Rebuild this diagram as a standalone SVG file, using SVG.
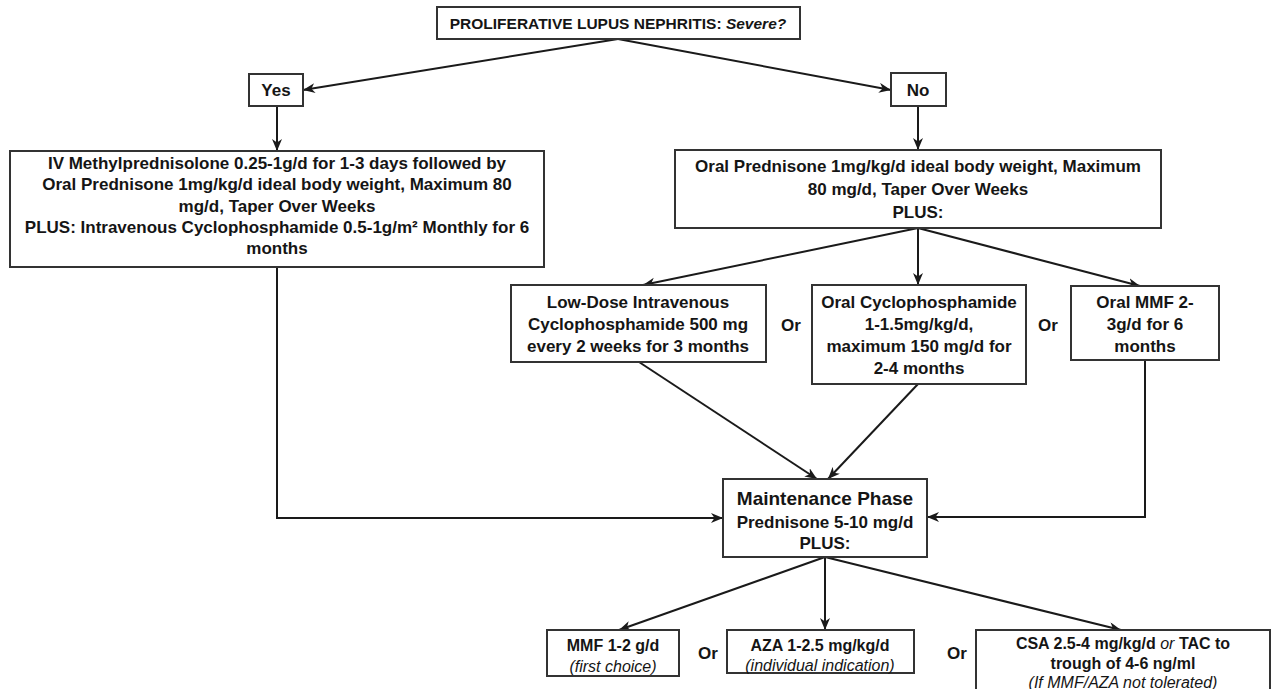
<svg xmlns="http://www.w3.org/2000/svg" width="1273" height="689" viewBox="0 0 1273 689">
<defs>
<marker id="arr" markerUnits="userSpaceOnUse" markerWidth="13" markerHeight="11" refX="12" refY="5" orient="auto">
<path d="M0,0 L12,5 L0,10 L3.5,5 Z" fill="#1a1a1a"/>
</marker>
<style>
.box{fill:#fff;stroke:#333;stroke-width:2}
.t{font-family:"Liberation Sans",Arial,sans-serif;font-weight:bold;font-size:17px;fill:#151515;text-anchor:middle}
.s{font-size:16px}
.i{font-style:italic;font-weight:normal}
.c{fill:none;stroke:#1a1a1a;stroke-width:2}
</style>
</defs>
<rect width="1273" height="689" fill="#fff"/>

<g id="connectors">
<path class="c" d="M618,39 L303,90" marker-end="url(#arr)"/>
<path class="c" d="M618,39 L891,90" marker-end="url(#arr)"/>
<path class="c" d="M277,106 L277,151" marker-end="url(#arr)"/>
<path class="c" d="M918,106 L918,150" marker-end="url(#arr)"/>
<path class="c" d="M918,228 L643,285" marker-end="url(#arr)"/>
<path class="c" d="M918,228 L918,285" marker-end="url(#arr)"/>
<path class="c" d="M918,228 L1140,286" marker-end="url(#arr)"/>
<path class="c" d="M639,362 L817,479" marker-end="url(#arr)"/>
<path class="c" d="M918,384 L828,479" marker-end="url(#arr)"/>
<path class="c" d="M277,267 L277,518 L723,518" marker-end="url(#arr)"/>
<path class="c" d="M1145,360 L1145,517 L927,517" marker-end="url(#arr)"/>
<path class="c" d="M825,557 L619,630" marker-end="url(#arr)"/>
<path class="c" d="M825,557 L825,630" marker-end="url(#arr)"/>
<path class="c" d="M825,557 L1121,630" marker-end="url(#arr)"/>
</g>

<g id="n-title">
<rect class="box" x="437" y="7" width="363" height="32"/>
<text class="t" x="618" y="29" style="font-size:15.5px">PROLIFERATIVE LUPUS NEPHRITIS: <tspan font-style="italic">Severe?</tspan></text>
</g>

<g id="n-yes">
<rect class="box" x="249" y="74" width="54" height="32"/>
<text class="t" x="276" y="96">Yes</text>
</g>

<g id="n-no">
<rect class="box" x="891" y="73" width="55" height="33"/>
<text class="t" x="918" y="96">No</text>
</g>

<g id="n-severe">
<rect class="box" x="10" y="151" width="534" height="116"/>
<text class="t" x="277" y="169">IV Methylprednisolone 0.25-1g/d for 1-3 days followed by</text>
<text class="t" x="277" y="190">Oral Prednisone 1mg/kg/d ideal body weight, Maximum 80</text>
<text class="t" x="277" y="212">mg/d, Taper Over Weeks</text>
<text class="t" x="277" y="233">PLUS: Intravenous Cyclophosphamide 0.5-1g/m² Monthly for 6</text>
<text class="t" x="277" y="254">months</text>
</g>

<g id="n-nonsevere">
<rect class="box" x="675" y="150" width="486" height="78"/>
<text class="t" x="918" y="172">Oral Prednisone 1mg/kg/d ideal body weight, Maximum</text>
<text class="t" x="918" y="195">80 mg/d, Taper Over Weeks</text>
<text class="t" x="918" y="218">PLUS:</text>
</g>

<g id="n-lowdose">
<rect class="box" x="511" y="285" width="255" height="77"/>
<text class="t" x="638" y="308">Low-Dose Intravenous</text>
<text class="t" x="638" y="330">Cyclophosphamide 500 mg</text>
<text class="t" x="638" y="352">every 2 weeks for 3 months</text>
</g>

<g id="or1"><text class="t" x="791" y="331">Or</text></g>

<g id="n-oralcyc">
<rect class="box" x="812" y="285" width="214" height="99"/>
<text class="t" x="919" y="308">Oral Cyclophosphamide</text>
<text class="t" x="919" y="330">1-1.5mg/kg/d,</text>
<text class="t" x="919" y="352">maximum 150 mg/d for</text>
<text class="t" x="919" y="374">2-4 months</text>
</g>

<g id="or2"><text class="t" x="1048" y="331">Or</text></g>

<g id="n-oralmmf">
<rect class="box" x="1071" y="286" width="148" height="74"/>
<text class="t" x="1145" y="308">Oral MMF 2-</text>
<text class="t" x="1145" y="330">3g/d for 6</text>
<text class="t" x="1145" y="352">months</text>
</g>

<g id="n-maint">
<rect class="box" x="723" y="479" width="204" height="78"/>
<text class="t" x="825" y="505" style="font-size:19px">Maintenance Phase</text>
<text class="t" x="825" y="528">Prednisone 5-10 mg/d</text>
<text class="t" x="825" y="549">PLUS:</text>
</g>

<g id="n-mmf">
<rect class="box" x="547" y="630" width="132" height="46"/>
<text class="t s" x="613" y="651">MMF 1-2 g/d</text>
<text class="t s i" x="613" y="672">(first choice)</text>
</g>

<g id="or3"><text class="t" x="708" y="659">Or</text></g>

<g id="n-aza">
<rect class="box" x="727" y="630" width="187" height="43"/>
<text class="t s" x="820" y="651">AZA 1-2.5 mg/kg/d</text>
<text class="t s i" x="820" y="671">(individual indication)</text>
</g>

<g id="or4"><text class="t" x="957" y="659">Or</text></g>

<g id="n-csa">
<rect class="box" x="976" y="630" width="294" height="70"/>
<text class="t s" x="1123" y="649">CSA 2.5-4 mg/kg/d <tspan font-style="italic" font-weight="normal">or</tspan> TAC to</text>
<text class="t s" x="1123" y="669">trough of 4-6 ng/ml</text>
<text class="t s i" x="1123" y="688">(If MMF/AZA not tolerated)</text>
</g>
</svg>
